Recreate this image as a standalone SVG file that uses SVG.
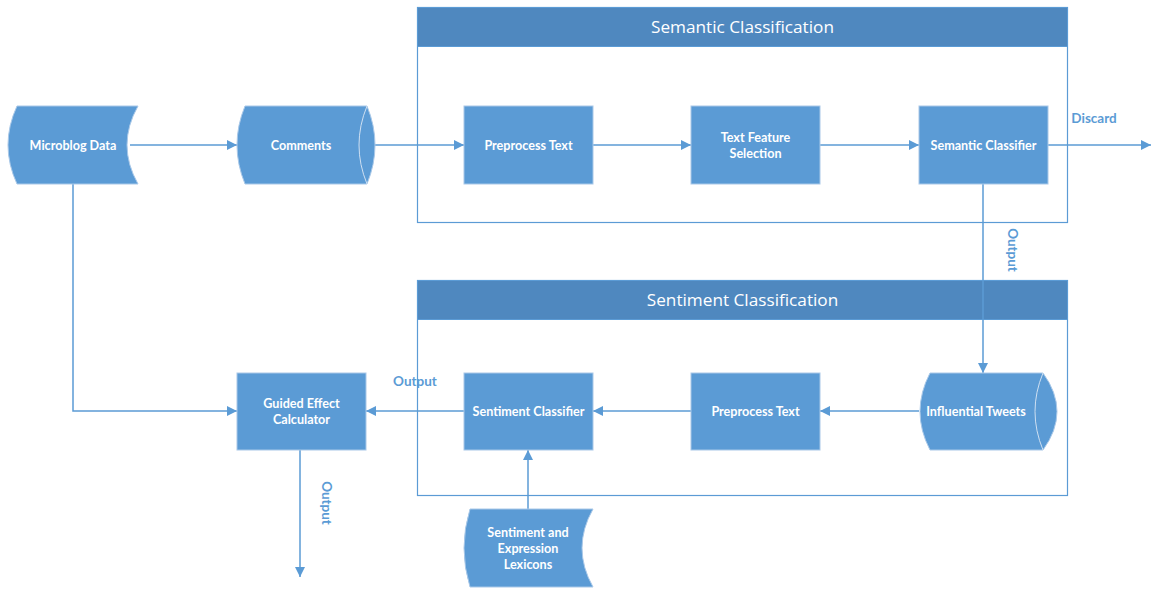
<svg xmlns="http://www.w3.org/2000/svg" width="1151" height="589" viewBox="0 0 1151 589">
<defs>
<marker id="ah" viewBox="0 0 10 10" refX="10" refY="5" markerWidth="10" markerHeight="10" markerUnits="userSpaceOnUse" orient="auto">
<path d="M0,0 L10,5 L0,10 Z" fill="#5B9BD5"/>
</marker>
<style>
.shape{fill:#5B9BD5;stroke:#A9C8E8;stroke-width:1}
.lbl{font-family:Lato,"Liberation Sans",sans-serif;font-size:12.6px;font-weight:bold;fill:#FFFFFF;text-anchor:middle;dominant-baseline:central}
.hdr{fill:#4F88BF;stroke:#5B9BD5;stroke-width:1}
.htxt{font-family:"Open Sans","Liberation Sans",sans-serif;font-size:17.2px;fill:#FFFFFF;text-anchor:middle;dominant-baseline:central}
.box{fill:#FFFFFF;stroke:#5B9BD5;stroke-width:1.2}
.con{fill:none;stroke:#5B9BD5;stroke-width:1.5}
.ctxt{font-family:Lato,"Liberation Sans",sans-serif;font-size:13.5px;font-weight:bold;fill:#5B9BD5;text-anchor:middle;dominant-baseline:central}
</style>
</defs>
<rect width="1151" height="589" fill="#FFFFFF"/>

<g id="semantic-container">
<rect class="box" x="417.5" y="7.5" width="650" height="215"/>
<rect class="hdr" x="417.5" y="7.5" width="650" height="39"/>
<text class="htxt" x="742.5" y="26">Semantic Classification</text>
</g>
<g id="sentiment-container">
<rect class="box" x="417.5" y="280.5" width="650" height="215"/>
<rect class="hdr" x="417.5" y="280.5" width="650" height="39"/>
<text class="htxt" x="742.5" y="299">Sentiment Classification</text>
</g>

<g id="connectors">
<line class="con" x1="130" y1="145" x2="237" y2="145" marker-end="url(#ah)"/>
<line class="con" x1="375" y1="145" x2="464" y2="145" marker-end="url(#ah)"/>
<line class="con" x1="593" y1="145" x2="691" y2="145" marker-end="url(#ah)"/>
<line class="con" x1="820" y1="145" x2="919" y2="145" marker-end="url(#ah)"/>
<line class="con" x1="1048" y1="145" x2="1151" y2="145" marker-end="url(#ah)"/>
<line class="con" x1="983" y1="184" x2="983" y2="373" marker-end="url(#ah)"/>
<line class="con" x1="919" y1="411" x2="820" y2="411" marker-end="url(#ah)"/>
<line class="con" x1="691" y1="411" x2="593" y2="411" marker-end="url(#ah)"/>
<line class="con" x1="464" y1="411" x2="366" y2="411" marker-end="url(#ah)"/>
<polyline class="con" points="73,184 73,411 237,411" marker-end="url(#ah)"/>
<line class="con" x1="300" y1="450" x2="300" y2="577" marker-end="url(#ah)"/>
<line class="con" x1="528" y1="509" x2="528" y2="450" marker-end="url(#ah)"/>
<text class="ctxt" x="1094" y="118">Discard</text>
<text class="ctxt" transform="translate(1013,250) rotate(90)" x="0" y="0">Output</text>
<text class="ctxt" x="415" y="381">Output</text>
<text class="ctxt" transform="translate(327,503) rotate(90)" x="0" y="0">Output</text>
</g>

<g id="microblog-data">
<path class="shape" d="M17,106 L138,106 Q116,145 138,184 L17,184 Q-1,145 17,106 Z"/>
<text class="lbl" x="73" y="145">Microblog Data</text>
</g>
<g id="comments">
<path class="shape" d="M245,106 L367,106 Q383,145 367,184 L245,184 Q229,145 245,106 Z"/>
<path d="M367,106 Q351,145 367,184" fill="none" stroke="#CFE0F2" stroke-width="1"/>
<text class="lbl" x="301" y="145">Comments</text>
</g>
<g id="preprocess-text-1">
<rect class="shape" x="464" y="106" width="129" height="78"/>
<text class="lbl" x="528.5" y="145">Preprocess Text</text>
</g>
<g id="text-feature-selection">
<rect class="shape" x="691" y="106" width="129" height="78"/>
<text class="lbl" x="755.5" y="137">Text Feature</text>
<text class="lbl" x="755.5" y="153">Selection</text>
</g>
<g id="semantic-classifier">
<rect class="shape" x="919" y="106" width="129" height="78"/>
<text class="lbl" x="983.5" y="145">Semantic Classifier</text>
</g>
<g id="influential-tweets">
<path class="shape" d="M930,373 L1043,373 Q1071,411.5 1043,450 L930,450 Q910,411.5 930,373 Z"/>
<path d="M1043,373 Q1027,411.5 1043,450" fill="none" stroke="#CFE0F2" stroke-width="1"/>
<text class="lbl" x="976" y="411">Influential Tweets</text>
</g>
<g id="preprocess-text-2">
<rect class="shape" x="691" y="373" width="129" height="77"/>
<text class="lbl" x="755.5" y="411">Preprocess Text</text>
</g>
<g id="sentiment-classifier">
<rect class="shape" x="464" y="373" width="129" height="77"/>
<text class="lbl" x="528.5" y="411">Sentiment Classifier</text>
</g>
<g id="guided-effect-calculator">
<rect class="shape" x="237" y="373" width="129" height="77"/>
<text class="lbl" x="301.5" y="403">Guided Effect</text>
<text class="lbl" x="301.5" y="419">Calculator</text>
</g>
<g id="lexicons">
<path class="shape" d="M470,509 L593,509 Q571,548 593,587 L470,587 Q458,548 470,509 Z"/>
<text class="lbl" x="528" y="532">Sentiment and</text>
<text class="lbl" x="528" y="548">Expression</text>
<text class="lbl" x="528" y="564">Lexicons</text>
</g>
</svg>
